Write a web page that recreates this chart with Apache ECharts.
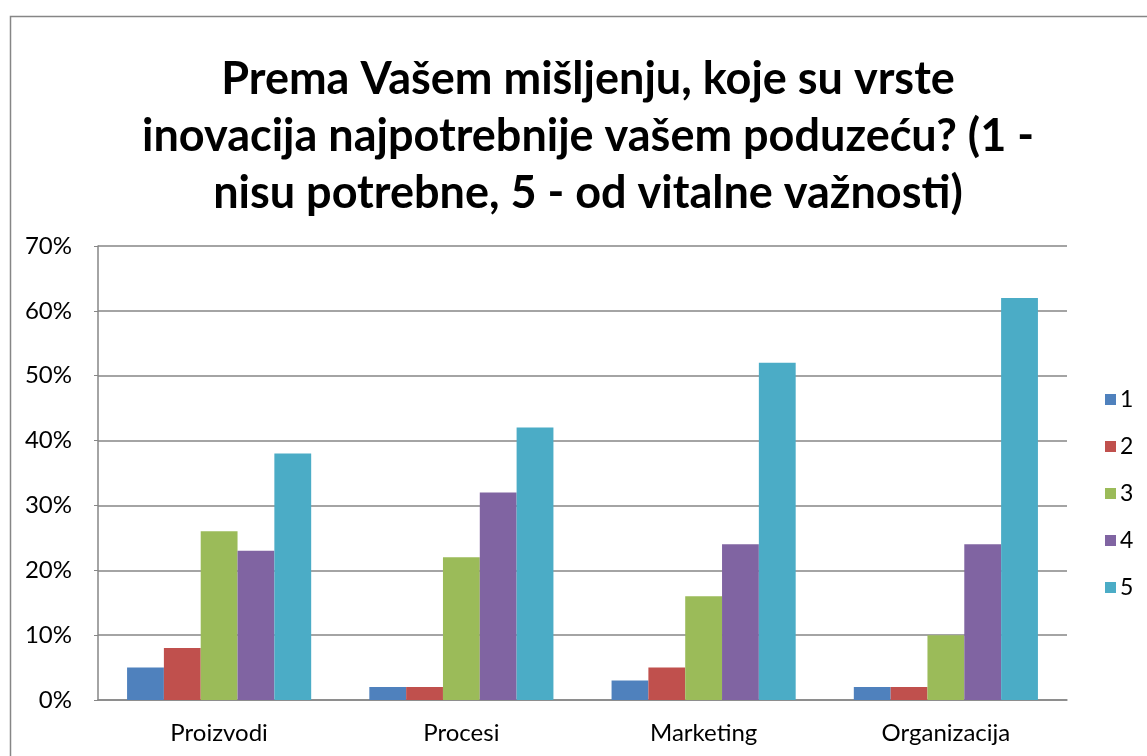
<!DOCTYPE html>
<html>
<head>
<meta charset="utf-8">
<script src="https://cdn.jsdelivr.net/npm/echarts@6/dist/echarts.min.js"></script>
<style>
  html, body { margin: 0; padding: 0; background: #fff; }
  #chart { width: 1147px; height: 756px; }
</style>
</head>
<body>
<div id="chart"></div>
<script>
var categories = ["Proizvodi", "Procesi", "Marketing", "Organizacija"];
var seriesNames = ["1", "2", "3", "4", "5"];
var s1 = [5, 2, 3, 2];
var s2 = [8, 2, 5, 2];
var s3 = [26, 22, 16, 10];
var s4 = [23, 32, 24, 24];
var s5 = [38, 42, 52, 62];
var colors = ["#4f81bd", "#c0504d", "#9bbb59", "#8064a2", "#4bacc6"];
var titleText = "Prema Vašem mišljenju, koje su vrste\ninovacija najpotrebnije vašem poduzeću? (1 -\nnisu potrebne, 5 - od vitalne važnosti)";

var chart = echarts.init(document.getElementById("chart"));
var font = "Lato, 'Open Sans', sans-serif";

var data = [s1, s2, s3, s4, s5];
var series = seriesNames.map(function (n, i) {
  return {
    name: n,
    type: "bar",
    data: data[i],
    barGap: "0%",
    barCategoryGap: "24%",
    itemStyle: { color: colors[i] }
  };
});

chart.setOption({
  animation: false,
  textStyle: { fontFamily: font },
  color: colors,
  graphic: [{
    type: "rect",
    shape: { x: 10.5, y: 16.5, width: 1200, height: 800 },
    style: { fill: "none", stroke: "#868686", lineWidth: 1.5 },
    silent: true
  }],
  title: {
    text: titleText,
    left: 583,
    textAlign: "center",
    top: 46,
    textStyle: {
      fontFamily: font,
      fontSize: 45,
      fontWeight: "bold",
      color: "#000",
      lineHeight: 57
    }
  },
  legend: {
    orient: "vertical",
    left: 1100,
    top: 383,
    itemWidth: 11,
    itemHeight: 11,
    itemGap: 24,
    icon: "rect",
    textStyle: { fontFamily: font, fontSize: 23, color: "#000", padding: [0, 0, 0, -1] },
    data: seriesNames
  },
  grid: {
    left: 98,
    right: 80,
    top: 246,
    bottom: 56,
    containLabel: false
  },
  xAxis: {
    type: "category",
    data: categories,
    axisLine: { lineStyle: { color: "#868686", width: 1.5 } },
    axisTick: { show: false },
    axisLabel: { fontFamily: font, fontSize: 24, color: "#000", margin: 21 }
  },
  yAxis: {
    type: "value",
    min: 0,
    max: 70,
    interval: 10,
    axisLine: { show: true, lineStyle: { color: "#868686", width: 1.5 } },
    axisTick: { show: true, length: 4, lineStyle: { color: "#868686" } },
    splitLine: { lineStyle: { color: "#868686", width: 1.5 } },
    axisLabel: {
      fontFamily: font,
      fontSize: 24,
      color: "#000",
      margin: 26,
      formatter: "{value}%"
    }
  },
  series: series
});
</script>
</body>
</html>
